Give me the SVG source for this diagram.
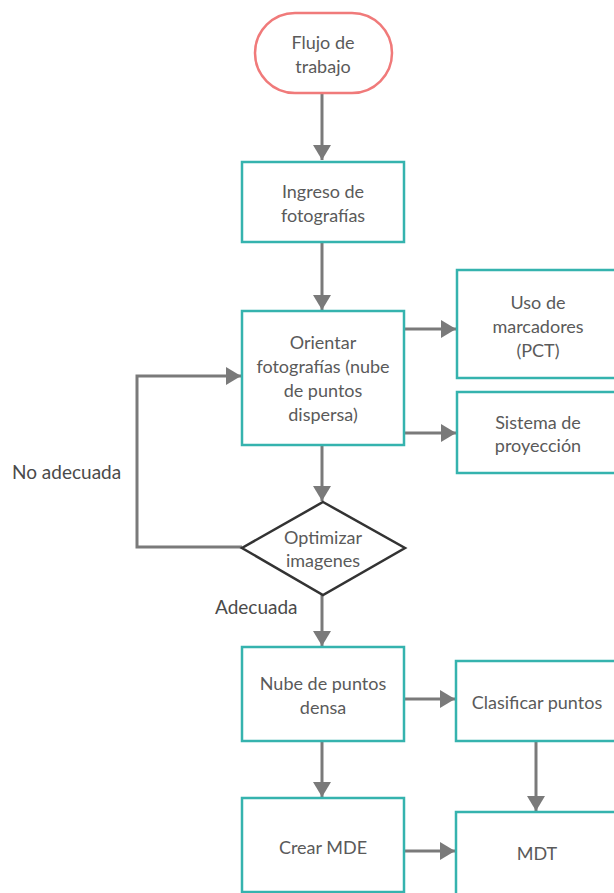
<svg xmlns="http://www.w3.org/2000/svg" width="614" height="893" viewBox="0 0 614 893">
<defs>
<marker id="ah" markerUnits="userSpaceOnUse" markerWidth="16" markerHeight="18" refX="15" refY="9" orient="auto">
<path d="M0,0 L15,9 L0,18 Z" fill="#7a7a7a"/>
</marker>
<style>
.box{fill:#fff;stroke:#35b3ae;stroke-width:2.5}
.term{fill:#fff;stroke:#f07a7a;stroke-width:2.5}
.dia{fill:#fff;stroke:#333;stroke-width:2.5}
.t{font-family:Lato,"Open Sans",sans-serif;font-size:18px;fill:#5a5a5a;text-anchor:middle}
.l{font-family:Lato,"Open Sans",sans-serif;font-size:19px;fill:#4a4a4a}
.c{fill:none;stroke:#7a7a7a;stroke-width:3;marker-end:url(#ah)}
</style>
</defs>
<rect width="614" height="893" fill="#fff"/>
<g id="connectors">
<path class="c" d="M322,93 V160"/>
<path class="c" d="M322,242 V310"/>
<path class="c" d="M404,329 H456"/>
<path class="c" d="M404,433 H456"/>
<path class="c" d="M322,445 V501"/>
<path class="c" d="M242,547 H137 V376 H241"/>
<path class="c" d="M322,595 V646"/>
<path class="c" d="M404,699 H455"/>
<path class="c" d="M322,741 V797"/>
<path class="c" d="M536,741 V811"/>
<path class="c" d="M404,851 H455"/>
<text class="l" x="12" y="479">No adecuada</text>
<text class="l" x="215" y="614">Adecuada</text>
</g>
<g id="flujo">
<rect class="term" x="255" y="13" width="137" height="80" rx="40"/>
<text class="t" x="323" y="49">Flujo de</text>
<text class="t" x="323" y="73">trabajo</text>
</g>
<g id="ingreso">
<rect class="box" x="242" y="162" width="162" height="80"/>
<text class="t" x="323" y="198">Ingreso de</text>
<text class="t" x="323" y="222">fotografías</text>
</g>
<g id="orientar">
<rect class="box" x="242" y="311" width="162" height="134"/>
<text class="t" x="323" y="349">Orientar</text>
<text class="t" x="323" y="373">fotografías (nube</text>
<text class="t" x="323" y="397">de puntos</text>
<text class="t" x="323" y="421">dispersa)</text>
</g>
<g id="marcadores">
<rect class="box" x="457" y="270" width="162" height="108"/>
<text class="t" x="538" y="309">Uso de</text>
<text class="t" x="538" y="333">marcadores</text>
<text class="t" x="538" y="357">(PCT)</text>
</g>
<g id="sistema">
<rect class="box" x="457" y="392" width="162" height="81"/>
<text class="t" x="538" y="429">Sistema de</text>
<text class="t" x="538" y="452">proyección</text>
</g>
<g id="optimizar">
<polygon class="dia" points="323,502 405,548 323,595 242,548"/>
<text class="t" x="323" y="544">Optimizar</text>
<text class="t" x="323" y="567">imagenes</text>
</g>
<g id="nube">
<rect class="box" x="242" y="647" width="162" height="94"/>
<text class="t" x="323" y="690">Nube de puntos</text>
<text class="t" x="323" y="714">densa</text>
</g>
<g id="clasificar">
<rect class="box" x="456" y="661" width="163" height="80"/>
<text class="t" x="537" y="709">Clasificar puntos</text>
</g>
<g id="crear">
<rect class="box" x="242" y="798" width="162" height="94"/>
<text class="t" x="323" y="854">Crear MDE</text>
</g>
<g id="mdt">
<rect class="box" x="456" y="812" width="163" height="90"/>
<text class="t" x="537" y="860">MDT</text>
</g>
</svg>
